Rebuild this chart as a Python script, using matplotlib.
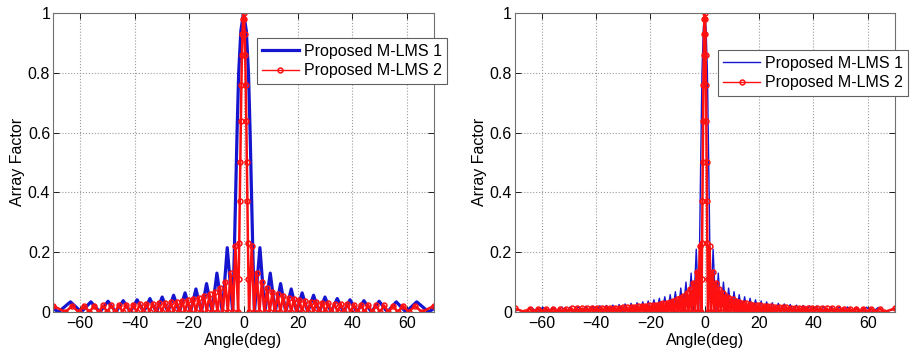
import numpy as np
import matplotlib.pyplot as plt

# one-sided values (pattern is symmetric about 0 deg)
# left panel, Proposed M-LMS 1
main_ang_b1 = [0, 1.0, 1.8, 2.4, 2.9, 3.4]
main_val_b1 = [1.0, 0.94, 0.8, 0.6, 0.4, 0.2]
nulls_b1 = [4.0, 7.8, 11.6, 15.5, 19.5, 23.6, 27.8, 32.1, 36.7, 41.6, 46.9, 52.8, 59.6, 68.0]
peaks_b1 = [6.0, 9.8, 13.6, 17.5, 21.5, 25.7, 29.9, 34.4, 39.1, 44.2, 49.8, 56.1, 63.6]
peakv_b1 = [0.215, 0.13, 0.095, 0.077, 0.064, 0.056, 0.05, 0.045, 0.041, 0.038, 0.036, 0.034, 0.034]
edge_b1 = 0.012

# left panel, Proposed M-LMS 2
main_ang_r1 = [0, 0.2, 0.4, 0.6, 0.8, 1.0, 1.2, 1.4, 1.6, 1.8]
main_val_r1 = [1.0, 0.98, 0.93, 0.86, 0.76, 0.64, 0.5, 0.37, 0.23, 0.11]
nulls_r1 = [2.0, 3.9, 5.8, 7.7, 9.6, 11.5, 13.5, 15.5, 17.5, 19.5, 21.5, 23.6, 25.7, 27.8,
            30.0, 32.2, 34.5, 36.9, 39.3, 41.8, 44.4, 47.2, 50.1, 53.2, 56.6, 60.6, 65.5]
peaks_r1 = [3.0, 4.8, 6.7, 8.6, 10.6, 12.5, 14.5, 16.5, 18.5, 20.5, 22.5, 24.6, 26.7,
            28.9, 31.1, 33.4, 35.7, 38.1, 40.5, 43.1, 45.8, 48.6, 51.6, 54.9, 58.6, 63.0]
peakv_r1 = [0.22, 0.13, 0.1, 0.08, 0.068, 0.06, 0.053, 0.048, 0.044, 0.04, 0.037, 0.035, 0.033,
            0.031, 0.029, 0.028, 0.027, 0.026, 0.025, 0.024, 0.023, 0.022, 0.022, 0.021, 0.021, 0.02]
edge_r1 = 0.021

# right panel, Proposed M-LMS 1
main_ang_b2 = [0, 0.5, 1.0, 1.4, 1.8]
main_val_b2 = [1.0, 0.95, 0.8, 0.55, 0.28]
nulls_b2 = [2.2, 4.1, 6.0, 7.9, 9.8, 11.8, 13.7, 15.7, 17.7, 19.8, 21.8, 23.9, 26.0, 28.2,
            30.4, 32.7, 35.0, 37.4, 39.9, 42.5, 45.2, 48.0, 51.0, 54.2, 57.7, 61.6, 66.2]
peaks_b2 = [3.1, 5.0, 6.9, 8.8, 10.8, 12.7, 14.7, 16.7, 18.7, 20.8, 22.8, 24.9, 27.1,
            29.3, 31.5, 33.8, 36.2, 38.6, 41.2, 43.8, 46.6, 49.5, 52.6, 55.9, 59.6, 63.9]
peakv_b2 = [0.21, 0.13, 0.1, 0.08, 0.068, 0.058, 0.051, 0.046, 0.041, 0.037, 0.034, 0.031, 0.029,
            0.027, 0.025, 0.023, 0.022, 0.021, 0.02, 0.019, 0.018, 0.017, 0.017, 0.016, 0.016, 0.015]
edge_b2 = 0.01

# right panel, Proposed M-LMS 2
main_ang_r2 = [0, 0.12, 0.24, 0.36, 0.48, 0.6, 0.72, 0.84, 0.96, 1.08]
main_val_r2 = [1.0, 0.98, 0.93, 0.86, 0.76, 0.64, 0.5, 0.37, 0.23, 0.11]
nulls_r2 = [1.2, 2.4, 3.6, 4.8, 6.0, 7.3, 8.5, 9.7, 11.0, 12.2, 13.4, 14.7, 16.0, 17.2,
            18.5, 19.8, 21.1, 22.5, 23.8, 25.2, 26.6, 28.0, 29.4, 30.9, 32.4, 33.9, 35.5,
            37.1, 38.8, 40.5, 42.3, 44.1, 46.0, 48.0, 50.1, 52.3, 54.6, 57.1, 59.8, 62.8, 66.2]
peaks_r2 = [1.8, 3.0, 4.2, 5.4, 6.6, 7.9, 9.1, 10.3, 11.6, 12.8, 14.0, 15.3, 16.6, 17.8,
            19.1, 20.4, 21.8, 23.1, 24.5, 25.9, 27.3, 28.7, 30.1, 31.6, 33.1, 34.7, 36.3,
            37.9, 39.6, 41.4, 43.2, 45.0, 47.0, 49.0, 51.2, 53.4, 55.8, 58.4, 61.3, 64.5]
peakv_r2 = [0.22, 0.135, 0.098, 0.077, 0.064, 0.054, 0.047, 0.042, 0.038, 0.034, 0.031, 0.029,
            0.027, 0.025, 0.023, 0.022, 0.021, 0.02, 0.019, 0.018, 0.017, 0.016, 0.016, 0.015,
            0.015, 0.014, 0.014, 0.013, 0.013, 0.013, 0.012, 0.012, 0.012, 0.012, 0.011, 0.011,
            0.011, 0.011, 0.011, 0.011]
edge_r2 = 0.012

xticks = [-60, -40, -20, 0, 20, 40, 60]
yticks = [0, 0.2, 0.4, 0.6, 0.8, 1]
ytick_labels = ["0", "0.2", "0.4", "0.6", "0.8", "1"]


def pattern(main_ang, main_val, nulls, peaks, peakv, edge):
    # walk outwards: main lobe, then null / peak / null ..., then the edge at 70 deg
    ang = list(main_ang)
    val = list(main_val)
    for i, n in enumerate(nulls):
        ang.append(n)
        val.append(0.0)
        if i < len(peaks):
            ang.append(peaks[i])
            val.append(peakv[i])
    ang.append(70)
    val.append(edge)
    ang = np.array(ang)
    val = np.array(val)
    x = np.concatenate([-ang[::-1], ang[1:]])
    y = np.concatenate([val[::-1], val[1:]])
    return x, y


plt.rcParams['font.family'] = ['Liberation Sans', 'DejaVu Sans']
plt.rcParams['font.size'] = 11.5

fig = plt.figure(figsize=(9.14, 3.57), dpi=100)
ax1 = fig.add_axes([0.058, 0.126, 0.417, 0.838])
ax2 = fig.add_axes([0.563, 0.126, 0.416, 0.838])

panels = [
    (ax1, pattern(main_ang_b1, main_val_b1, nulls_b1, peaks_b1, peakv_b1, edge_b1),
     pattern(main_ang_r1, main_val_r1, nulls_r1, peaks_r1, peakv_r1, edge_r1), 2.3, 0.534, 0.916),
    (ax2, pattern(main_ang_b2, main_val_b2, nulls_b2, peaks_b2, peakv_b2, edge_b2),
     pattern(main_ang_r2, main_val_r2, nulls_r2, peaks_r2, peakv_r2, edge_r2), 1.0, 0.534, 0.876),
]

for ax, blue, red, blw, lx, ly in panels:
    ax.plot(blue[0], blue[1], color='#1515d0', lw=blw, label='Proposed M-LMS 1')
    ax.plot(red[0], red[1], color='#ff1010', lw=1.8, marker='o', ms=3.5, mfc='none', mew=1.1,
            label='Proposed M-LMS 2')
    ax.set_xlim(-70, 70)
    ax.set_ylim(0, 1)
    ax.set_xticks(xticks)
    ax.set_yticks(yticks)
    ax.set_yticklabels(ytick_labels)
    ax.tick_params(direction='in', length=4, width=0.6, pad=3, top=True, right=True)
    ax.tick_params(axis='y', pad=2)
    ax.grid(True, linestyle=':', color='#9a9a9a', lw=0.8)
    for s in ax.spines.values():
        s.set_color('#707070')
        s.set_linewidth(0.8)
    ax.set_xlabel('Angle(deg)', labelpad=1)
    ax.set_ylabel('Array Factor', labelpad=2)
    leg = ax.legend(loc='upper left', bbox_to_anchor=(lx, ly), fancybox=False, framealpha=1,
                    edgecolor='#606060', handlelength=2.3, handletextpad=0.3,
                    labelspacing=0.3, borderpad=0.35, borderaxespad=0)
    leg.get_frame().set_linewidth(0.8)
    leg.get_lines()[1].set_linewidth(1.0)

fig.savefig('out.png', dpi=100)
